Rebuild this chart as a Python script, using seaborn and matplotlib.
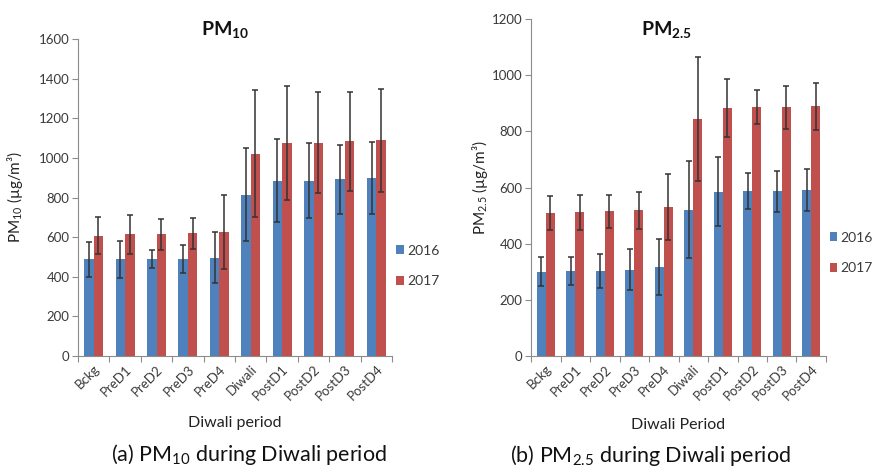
import matplotlib
matplotlib.use("Agg")
import matplotlib.pyplot as plt
import seaborn as sns
import pandas as pd
import numpy as np

cats = ['Bckg', 'PreD1', 'PreD2', 'PreD3', 'PreD4', 'Diwali',
        'PostD1', 'PostD2', 'PostD3', 'PostD4']
years = ['2016', '2017']

pm10_2016 = [488, 488, 488, 491, 496, 813, 885, 885, 892, 900]
pm10_2016_sd = [88, 93, 46, 70, 128, 235, 211, 190, 173, 182]
pm10_2017 = [607, 614, 614, 619, 624, 1022, 1076, 1076, 1083, 1088]
pm10_2017_sd = [93, 100, 78, 78, 187, 320, 289, 255, 250, 260]

pm25_2016 = [300, 302, 302, 307, 317, 521, 585, 587, 587, 592]
pm25_2016_sd = [52, 50, 60, 73, 100, 172, 122, 65, 73, 75]
pm25_2017 = [508, 512, 515, 519, 530, 844, 882, 886, 886, 889]
pm25_2017_sd = [60, 63, 60, 66, 118, 220, 103, 60, 77, 83]

sns.set_style('white')
plt.rcParams['font.family'] = ['Lato', 'DejaVu Sans']
plt.rcParams['mathtext.fontset'] = 'custom'
plt.rcParams['mathtext.rm'] = 'Lato'
plt.rcParams['mathtext.it'] = 'Lato:italic'
plt.rcParams['mathtext.bf'] = 'Lato:bold'

BLUE = '#4F81BD'
RED = '#C0504D'
AX_COL = '#8c8c8c'
TXT = '#3a3a3a'

W, H = 876, 473
fig = plt.figure(figsize=(W / 100, H / 100), dpi=100)


def frac_ax(x0, x1, ytop, ybot):
    return fig.add_axes([x0 / W, 1 - ybot / H, (x1 - x0) / W, (ybot - ytop) / H])


def panel(ax, v16, s16, v17, s17, ymax, ystep, ylabel, xlabel, ylab_x, xlab_y, leg_xy):
    df = pd.DataFrame({
        'period': cats * 2,
        'year': [years[0]] * len(cats) + [years[1]] * len(cats),
        'value': list(v16) + list(v17),
    })
    sns.barplot(data=df, x='period', y='value', hue='year', order=cats,
                hue_order=years, palette=[BLUE, RED], width=0.6, gap=0,
                errorbar=None, ax=ax, saturation=1, edgecolor='none')
    for cont, sd in zip(ax.containers, [s16, s17]):
        xs = [p.get_x() + p.get_width() / 2 for p in cont]
        hs = [p.get_height() for p in cont]
        ax.errorbar(xs, hs, yerr=sd, fmt='none', ecolor='#333333',
                    elinewidth=1.1, capsize=2.2, capthick=1.1, zorder=3)
    ax.set_xlim(-0.5, len(cats) - 0.5)
    ax.set_ylim(0, ymax)
    ax.set_yticks(np.arange(0, ymax + 1, ystep))
    ax.tick_params(axis='y', labelsize=9.5, colors=TXT, length=4, width=0.8,
                   direction='out', left=True, color=AX_COL, pad=2)
    ax.set_xticks(range(len(cats)))
    ax.set_xticklabels(cats, rotation=45, ha='right', rotation_mode='anchor')
    ax.tick_params(axis='x', labelsize=9.5, colors=TXT, length=0, pad=5)
    ax.set_xticks(np.arange(-0.5, len(cats)), minor=True)
    ax.tick_params(axis='x', which='minor', length=4, width=0.8, color=AX_COL,
                   direction='out', bottom=True)
    for side in ['top', 'right']:
        ax.spines[side].set_visible(False)
    for side in ['left', 'bottom']:
        ax.spines[side].set_color(AX_COL)
        ax.spines[side].set_linewidth(0.8)
    ax.set_ylabel(ylabel, fontsize=11, color='#222222')
    ax.yaxis.set_label_coords(ylab_x, 0.5)
    ax.set_xlabel(xlabel, fontsize=11.5, color='#222222')
    ax.xaxis.set_label_coords(0.5, xlab_y)
    h, l = ax.get_legend_handles_labels()
    ax.legend(h, l, loc='center left', bbox_to_anchor=leg_xy, frameon=False,
              handlelength=0.55, handleheight=0.55, handletextpad=0.25,
              labelspacing=1.35, fontsize=10, labelcolor=TXT, borderpad=0,
              borderaxespad=0)


ax1 = frac_ax(78, 392, 39, 356)
panel(ax1, pm10_2016, pm10_2016_sd, pm10_2017, pm10_2017_sd, 1600, 200,
      r'PM$_{10}$ (µg/m³)', 'Diwali period', -0.17, -0.19, (1.013, 0.284))

ax2 = frac_ax(531, 826, 19, 356)
panel(ax2, pm25_2016, pm25_2016_sd, pm25_2017, pm25_2017_sd, 1200, 200,
      r'PM$_{2.5}$ (µg/m³)', 'Diwali Period', -0.14, -0.185, (1.012, 0.306))

fig.text(225 / W, 1 - 29 / H, r'PM$_{\mathbf{10}}$', ha='center', va='center',
         fontsize=14, fontweight='bold', color='#111111')
fig.text(667 / W, 1 - 30 / H, r'PM$_{\mathbf{2.5}}$', ha='center', va='center',
         fontsize=14, fontweight='bold', color='#111111')

fig.text(249 / W, 1 - 454 / H, r'(a) PM$_{10}$ during Diwali period',
         ha='center', va='center', fontsize=15.5, color='#111111')
fig.text(650 / W, 1 - 455 / H, r'(b) PM$_{2.5}$ during Diwali period',
         ha='center', va='center', fontsize=15.5, color='#111111')

fig.savefig('out.png', dpi=100)
